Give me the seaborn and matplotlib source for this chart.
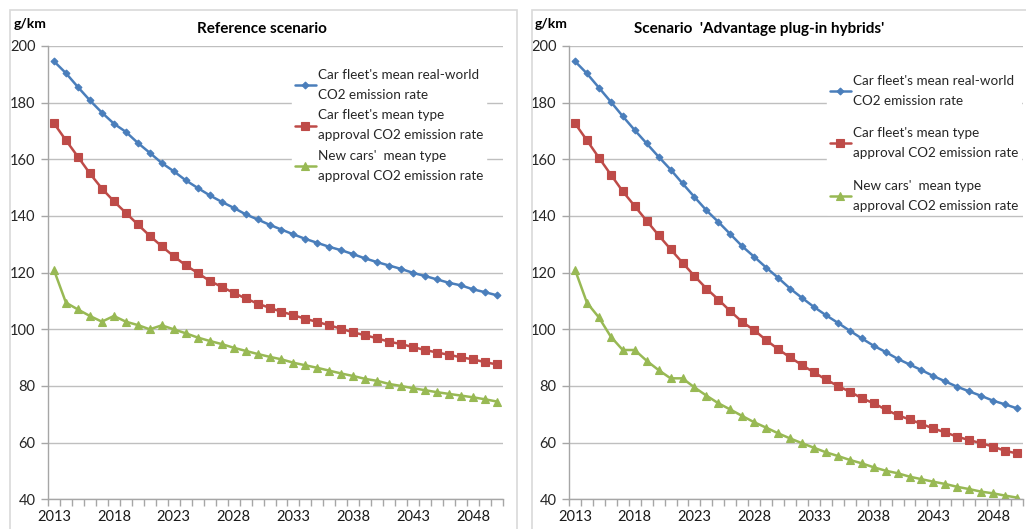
import matplotlib
matplotlib.use("Agg")
import matplotlib.pyplot as plt
from matplotlib.patches import Rectangle
from matplotlib.ticker import FixedLocator
import numpy as np
import pandas as pd
import seaborn as sns

# ---------------- data ----------------
years = list(range(2013, 2051))

ref_realworld = [194.6, 190.4, 185.5, 180.8, 176.5, 172.6, 169.7, 165.8, 162.3, 158.7,
                 155.8, 152.6, 149.9, 147.3, 145.0, 142.9, 140.6, 138.8, 136.9, 135.2,
                 133.5, 131.9, 130.5, 129.1, 127.9, 126.5, 125.0, 123.7, 122.5, 121.3,
                 119.9, 118.8, 117.6, 116.4, 115.5, 114.1, 113.1, 112.0]
ref_fleet_ta = [172.7, 166.7, 160.9, 155.0, 149.7, 145.2, 141.1, 137.0, 133.0, 129.3,
                125.8, 122.6, 119.9, 117.1, 115.0, 112.9, 110.9, 109.1, 107.6, 106.2,
                105.0, 103.7, 102.6, 101.4, 100.2, 98.9, 97.9, 96.8, 95.6, 94.8,
                93.7, 92.7, 91.8, 91.0, 90.1, 89.4, 88.4, 87.6]
ref_new_ta = [120.9, 109.4, 107.0, 104.7, 102.7, 104.7, 102.7, 101.5, 100.0, 101.4,
              100.0, 98.6, 97.1, 95.9, 94.8, 93.5, 92.4, 91.3, 90.3, 89.4,
              88.2, 87.3, 86.4, 85.4, 84.4, 83.5, 82.5, 81.8, 80.7, 80.0,
              79.2, 78.5, 77.8, 77.2, 76.6, 76.0, 75.3, 74.5]

phev_realworld = [194.6, 190.3, 185.3, 180.3, 175.2, 170.3, 165.6, 160.9, 156.4, 151.5,
                  146.7, 142.0, 137.9, 133.6, 129.3, 125.6, 121.8, 118.2, 114.4, 111.1,
                  107.9, 105.0, 102.3, 99.5, 96.8, 94.2, 92.0, 89.6, 87.6, 85.6,
                  83.5, 81.6, 79.7, 78.1, 76.5, 74.8, 73.5, 72.1]
phev_fleet_ta = [172.7, 166.7, 160.6, 154.6, 148.7, 143.5, 138.3, 133.2, 128.3, 123.5,
                 118.8, 114.4, 110.5, 106.4, 102.6, 99.7, 96.2, 93.0, 90.1, 87.4,
                 84.8, 82.3, 80.0, 78.0, 75.7, 73.9, 71.7, 69.7, 68.2, 66.6,
                 65.0, 63.6, 62.1, 60.9, 59.8, 58.6, 57.1, 56.2]
phev_new_ta = [121.1, 109.4, 104.2, 97.4, 92.7, 92.7, 88.9, 85.6, 82.7, 82.7,
               79.5, 76.6, 73.9, 71.7, 69.4, 67.2, 65.3, 63.3, 61.5, 59.8,
               58.2, 56.6, 55.3, 53.9, 52.7, 51.3, 50.1, 49.2, 48.0, 47.1,
               46.2, 45.4, 44.4, 43.6, 42.7, 42.1, 41.3, 40.6]

series_labels = ["Car fleet's mean real-world\nCO2 emission rate",
                 "Car fleet's mean type\napproval CO2 emission rate",
                 "New cars'  mean type\napproval CO2 emission rate"]
titles = ["Reference scenario", "Scenario  'Advantage plug-in hybrids'"]
unit_label = "g/km"
y_ticks = [40, 60, 80, 100, 120, 140, 160, 180, 200]
x_label_years = [2013, 2018, 2023, 2028, 2033, 2038, 2043, 2048]

# ---------------- style ----------------
sns.set_theme(style="white")
plt.rcParams['font.family'] = ['Lato', 'DejaVu Sans']

colors = ["#4A7EBB", "#BE4B48", "#98B954"]
markers = ["D", "s", "^"]
msizes = [3.5, 5.5, 5.5]

W, H = 1026, 529
fig = plt.figure(figsize=(W / 100, H / 100), dpi=100)
fig.patch.set_facecolor("white")

def fx(px):
    return px / W

def fy(py):
    return 1 - py / H

# chart-area borders
fig.patches.append(Rectangle((fx(10), fy(540)), fx(517) - fx(10), fy(10) - fy(540),
                             transform=fig.transFigure, fill=False,
                             edgecolor="#d9d9d9", lw=1.2))
fig.patches.append(Rectangle((fx(532), fy(540)), fx(1030) - fx(532), fy(10) - fy(540),
                             transform=fig.transFigure, fill=False,
                             edgecolor="#d9d9d9", lw=1.2))

panels = [
    dict(data=[ref_realworld, ref_fleet_ta, ref_new_ta], left=48, right=503,
         title_x=262, unit_x=14,
         leg_anchor=(292, 66), labelspacing=0.65),
    dict(data=[phev_realworld, phev_fleet_ta, phev_new_ta], left=569, right=1023,
         title_x=759, unit_x=535,
         leg_anchor=(827, 72), labelspacing=1.52),
]

top_px, bot_px = 46, 499.3
idx = np.arange(len(years))

for p, title in zip(panels, titles):
    ax = fig.add_axes([fx(p["left"]), fy(bot_px), fx(p["right"]) - fx(p["left"]),
                       fy(top_px) - fy(bot_px)])
    ax.set_facecolor("white")
    for vals, c, m, ms, lab in zip(p["data"], colors, markers, msizes, series_labels):
        df = pd.DataFrame({"i": idx, "v": vals})
        sns.lineplot(data=df, x="i", y="v", ax=ax, color=c, marker=m,
                     markersize=ms, markeredgecolor=c, markeredgewidth=0.8,
                     linewidth=1.8, label=lab)
    ax.set_xlim(-0.5, len(years) - 0.5)
    ax.set_ylim(40, 200)
    ax.set_yticks(y_ticks)
    ax.set_yticklabels([str(v) for v in y_ticks])
    ax.yaxis.grid(True, color="#bfbfbf", lw=1)
    ax.xaxis.grid(False)
    ax.set_axisbelow(True)
    label_pos = [years.index(y) for y in x_label_years]
    ax.set_xticks(label_pos)
    ax.set_xticklabels([str(y) for y in x_label_years])
    ax.xaxis.set_minor_locator(FixedLocator(np.arange(-0.5, len(years), 1.0)))
    ax.tick_params(axis="x", which="major", length=0, pad=8, labelsize=10.5,
                   labelcolor="#1a1a1a")
    ax.tick_params(axis="x", which="minor", length=5, width=1, color="#a6a6a6",
                   direction="out", bottom=True)
    ax.tick_params(axis="y", which="major", length=5, width=1, color="#a6a6a6",
                   direction="out", left=True, pad=4, labelsize=10.5,
                   labelcolor="#262626")
    ax.set_xlabel("")
    ax.set_ylabel("")
    for s in ["top", "right"]:
        ax.spines[s].set_visible(False)
    for s in ["left", "bottom"]:
        ax.spines[s].set_color("#a6a6a6")
        ax.spines[s].set_linewidth(1)
    leg = ax.legend(loc="upper left",
                    bbox_to_anchor=(fx(p["leg_anchor"][0]), fy(p["leg_anchor"][1])),
                    bbox_transform=fig.transFigure, frameon=True, fancybox=False,
                    framealpha=1, edgecolor="white", facecolor="white",
                    fontsize=9.7, handlelength=1.6, handletextpad=0.15,
                    labelspacing=p["labelspacing"], borderpad=0.2, borderaxespad=0)
    for t in leg.get_texts():
        t.set_color("#262626")
        t.set_linespacing(1.8)
    fig.text(fx(p["title_x"]), fy(29), title, ha="center", va="center",
             fontsize=11, fontweight="bold", color="#000000")
    fig.text(fx(p["unit_x"]), fy(24), unit_label, ha="left", va="center",
             fontsize=10, fontweight="bold", color="#000000")

fig.savefig("out.png", dpi=100, facecolor="white")
